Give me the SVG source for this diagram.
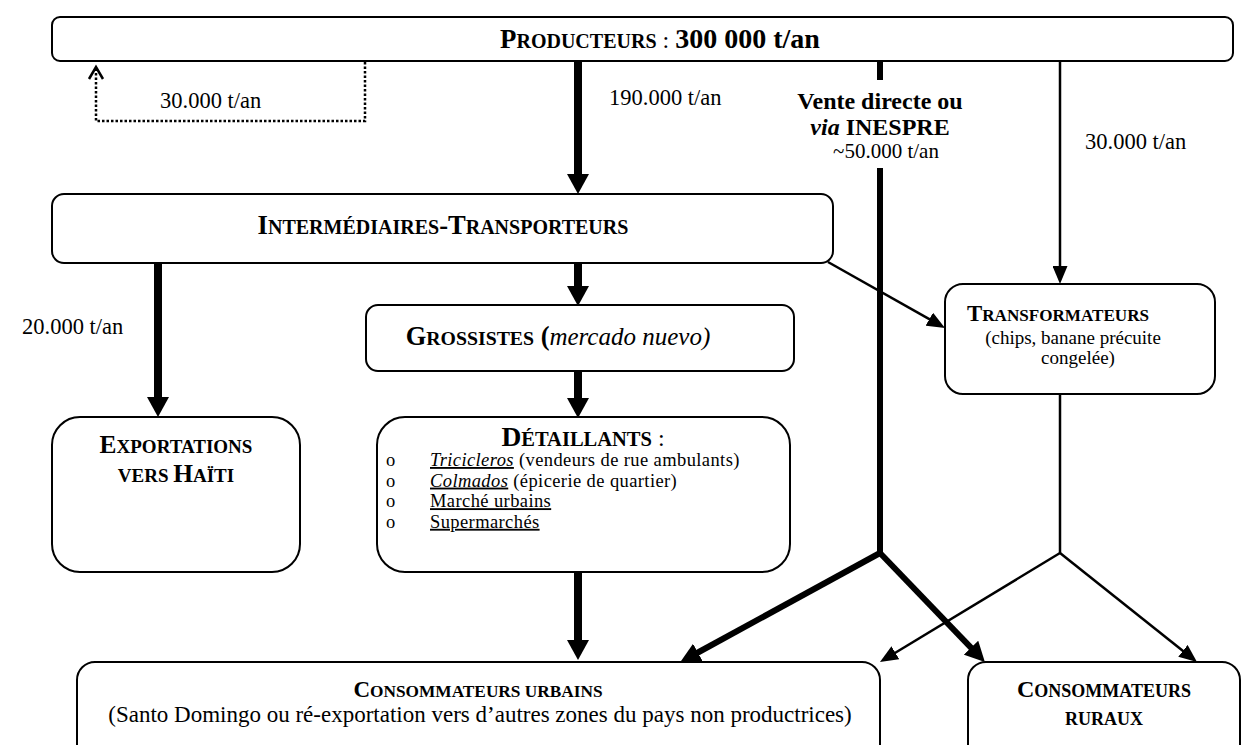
<svg xmlns="http://www.w3.org/2000/svg" width="1248" height="745" viewBox="0 0 1248 745">
<style>
.box{fill:#fff;stroke:#000;stroke-width:2}
text{font-family:"Liberation Serif","Times New Roman",serif;fill:#000}
.lbl{font-size:22.5px}
.b{font-weight:bold}
.thick{stroke:#000;stroke-width:8;fill:none}
.med{stroke:#000;stroke-width:6;fill:none}
.thin{stroke:#000;stroke-width:2.5;fill:none}
.u{text-decoration:underline}
.li{font-size:18.5px;letter-spacing:0.4px}
</style>
<defs>
<marker id="mThick" markerUnits="userSpaceOnUse" markerWidth="20" markerHeight="22" refX="1" refY="11" orient="auto"><path d="M0,0 L20,11 L0,22 z" fill="#000"/></marker>
<marker id="mMed" markerUnits="userSpaceOnUse" markerWidth="20" markerHeight="20" refX="1" refY="10" orient="auto"><path d="M0,0 L20,10 L0,20 z" fill="#000"/></marker>
<marker id="mThin" markerUnits="userSpaceOnUse" markerWidth="18" markerHeight="15" refX="1" refY="7.5" orient="auto"><path d="M0,0 L18,7.5 L0,15 z" fill="#000"/></marker>
</defs>

<g id="connectors">
  <path d="M365,62 V121 H96 V68" fill="none" stroke="#000" stroke-width="2.5" stroke-dasharray="2.5 2"/>
  <path d="M89,79 L96,67 L103,79" fill="none" stroke="#000" stroke-width="2.5"/>
  <line class="thick" x1="578" y1="62" x2="578" y2="175" marker-end="url(#mThick)"/>
  <line class="med" x1="880" y1="60" x2="880" y2="80"/>
  <line class="med" x1="880" y1="168" x2="880" y2="555"/>
  <line class="thin" x1="1060" y1="61" x2="1060" y2="267" marker-end="url(#mThin)"/>
  <line class="thin" x1="828" y1="262" x2="930.2" y2="319.7" marker-end="url(#mThin)"/>
  <line class="thick" x1="158" y1="263" x2="158" y2="398" marker-end="url(#mThick)"/>
  <line class="thick" x1="578" y1="263" x2="578" y2="287" marker-end="url(#mThick)"/>
  <line class="thick" x1="578" y1="371" x2="578" y2="399" marker-end="url(#mThick)"/>
  <line class="thick" x1="578" y1="572" x2="578" y2="641" marker-end="url(#mThick)"/>
  <line class="med" x1="880" y1="553" x2="697" y2="653" marker-end="url(#mMed)"/>
  <line class="med" x1="880" y1="553" x2="971.7" y2="648.4" marker-end="url(#mMed)"/>
  <line class="thin" x1="1060" y1="394" x2="1060" y2="553"/>
  <line class="thin" x1="1060" y1="553" x2="894.5" y2="653.2" marker-end="url(#mThin)"/>
  <line class="thin" x1="1060" y1="553" x2="1183.7" y2="651.4" marker-end="url(#mThin)"/>
  <text class="lbl" x="160" y="108">30.000 t/an</text>
  <text class="lbl" x="609" y="105">190.000 t/an</text>
  <text x="880" y="109" text-anchor="middle" font-size="24" font-weight="bold">Vente directe ou</text>
  <text x="880" y="135" text-anchor="middle" font-size="24" font-weight="bold"><tspan font-style="italic">via</tspan> INESPRE</text>
  <text x="886" y="158" text-anchor="middle" font-size="21">~50.000 t/an</text>
  <text class="lbl" x="1085" y="149">30.000 t/an</text>
  <text class="lbl" x="22" y="334">20.000 t/an</text>
</g>

<g id="producteurs">
  <rect class="box" x="52" y="17" width="1181" height="44" rx="8"/>
  <text x="660" y="48" text-anchor="middle" class="b"><tspan font-size="26.8">P</tspan><tspan font-size="20">RODUCTEURS</tspan><tspan font-size="24" font-weight="normal"> : </tspan><tspan font-size="28">300 000 t/an</tspan></text>
</g>

<g id="intermediaires">
  <rect class="box" x="52" y="194" width="781" height="69" rx="12"/>
  <text x="443" y="234" text-anchor="middle" class="b"><tspan font-size="26.6">I</tspan><tspan font-size="20">NTERMÉDIAIRES</tspan><tspan font-size="26.6">-T</tspan><tspan font-size="20">RANSPORTEURS</tspan></text>
</g>

<g id="transformateurs">
  <rect class="box" x="945" y="284" width="270" height="110" rx="18"/>
  <text x="967" y="321" class="b"><tspan font-size="22.8">T</tspan><tspan font-size="17.1">RANSFORMATEURS</tspan></text>
  <text x="1073" y="344" text-anchor="middle" font-size="19">(chips, banane précuite</text>
  <text x="1078" y="364" text-anchor="middle" font-size="19">congelée)</text>
</g>

<g id="grossistes">
  <rect class="box" x="366" y="305" width="428" height="66" rx="12"/>
  <text x="558" y="345" text-anchor="middle"><tspan font-size="26.4" class="b">G</tspan><tspan font-size="19.8" class="b">ROSSISTES</tspan><tspan font-size="26.4" class="b"> (</tspan><tspan font-size="25" font-style="italic">mercado nuevo)</tspan></text>
</g>

<g id="exportations">
  <rect class="box" x="52" y="417" width="248" height="155" rx="28"/>
  <text x="176" y="453" text-anchor="middle" class="b"><tspan font-size="25.4">E</tspan><tspan font-size="19">XPORTATIONS</tspan></text>
  <text x="176" y="482" text-anchor="middle" class="b"><tspan font-size="19">VERS </tspan><tspan font-size="25.4">H</tspan><tspan font-size="19">AÏTI</tspan></text>
</g>

<g id="detaillants">
  <rect class="box" x="377" y="417" width="413" height="155" rx="28"/>
  <text x="583" y="446" text-anchor="middle"><tspan font-size="27.5" class="b">D</tspan><tspan font-size="20.5" class="b">ÉTAILLANTS</tspan><tspan font-size="24"> :</tspan></text>
  <text class="li" x="386" y="466">o</text>
  <text class="li" x="386" y="486.6">o</text>
  <text class="li" x="386" y="507.2">o</text>
  <text class="li" x="386" y="527.8">o</text>
  <text class="li" x="430" y="466"><tspan class="u" font-style="italic">Tricicleros</tspan> (vendeurs de rue ambulants)</text>
  <text class="li" x="430" y="486.6"><tspan class="u" font-style="italic">Colmados</tspan> (épicerie de quartier)</text>
  <text class="li u" x="430" y="507.2">Marché urbains</text>
  <text class="li u" x="430" y="527.8">Supermarchés</text>
</g>

<g id="consommateurs-urbains">
  <rect class="box" x="77" y="662" width="803" height="100" rx="18"/>
  <text x="478" y="697" text-anchor="middle" class="b"><tspan font-size="23">C</tspan><tspan font-size="17.3">ONSOMMATEURS URBAINS</tspan></text>
  <text x="480" y="722" text-anchor="middle" font-size="23">(Santo Domingo ou ré-exportation vers d’autres zones du pays non productrices)</text>
</g>

<g id="consommateurs-ruraux">
  <rect class="box" x="968" y="662" width="272" height="100" rx="18"/>
  <text x="1104" y="697" text-anchor="middle" class="b"><tspan font-size="24">C</tspan><tspan font-size="18">ONSOMMATEURS</tspan></text>
  <text x="1104" y="725" text-anchor="middle" class="b"><tspan font-size="18">RURAUX</tspan></text>
</g>
</svg>
